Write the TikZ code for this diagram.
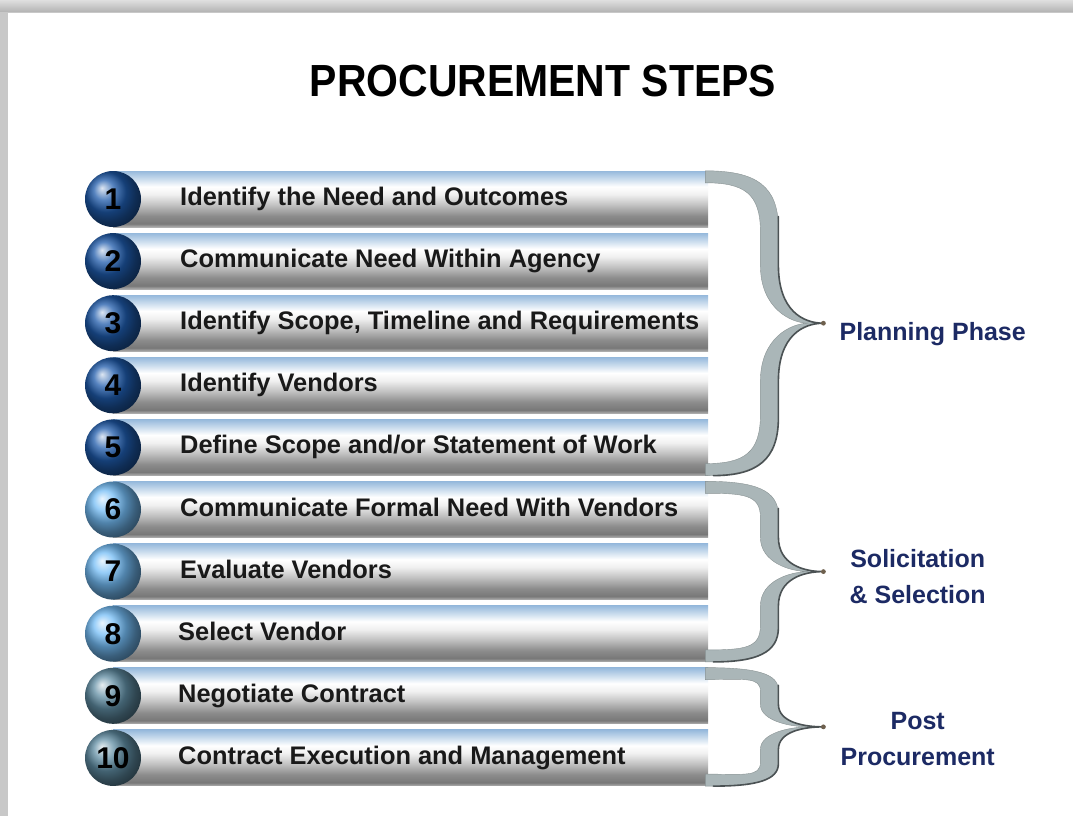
\documentclass[tikz,border=0pt]{standalone}
\usepackage{fontspec}
\setsansfont{Liberation Sans}
\newfontfamily\titlefont[FakeStretch=0.91]{Liberation Sans}
\usetikzlibrary{positioning, calc, shadings}

\definecolor{navy}{RGB}{28,42,100}
\definecolor{stepink}{RGB}{25,25,25}
\definecolor{darkball}{RGB}{30,90,170}
\definecolor{lightball}{RGB}{115,188,245}
\definecolor{steelball}{RGB}{95,140,162}
\definecolor{bracegray}{RGB}{170,182,184}
\definecolor{braceedge}{RGB}{75,82,84}
\definecolor{framegray}{RGB}{200,200,200}
\definecolor{barA}{RGB}{175,175,175}
\definecolor{barB}{RGB}{120,120,120}
\definecolor{barC}{RGB}{140,140,140}
\definecolor{barD}{RGB}{195,195,195}
\definecolor{barE}{RGB}{240,240,240}
\definecolor{barF}{RGB}{255,255,255}
\definecolor{barG}{RGB}{205,222,238}
\definecolor{barH}{RGB}{150,185,220}

% the path is fitted to the 25bp..75bp part of the shading
\pgfdeclareverticalshading{barshade}{100bp}{color(0bp)=(barA); color(25bp)=(barA);
  color(28bp)=(barB); color(35bp)=(barC); color(45bp)=(barD); color(54bp)=(barE);
  color(61bp)=(barF); color(67.5bp)=(barG); color(75bp)=(barH); color(100bp)=(barH)}

% curly bracket from the top bar to the bottom bar, #3 names the tip
\newcommand{\phasebrace}[3]{%
  \path[bracebody] let \p1=(#1.north east), \p2=(#2.south east), \n1={(\y1-\y2)/2} in
    ({\x1-3pt},\y1) .. controls ({\x1+48pt},\y1) and ({\x1+70pt},{\y1-0.1*\n1}) .. ({\x1+70pt},{\y1-0.38*\n1})
    -- ({\x1+70pt},{\y1-0.62*\n1}) .. controls ({\x1+70pt},{\y1-0.92*\n1}) and ({\x1+95pt},{\y1-\n1}) .. ({\x1+115pt},{\y1-\n1}) coordinate (#3)
    .. controls ({\x1+95pt},{\y1-\n1}) and ({\x1+70pt},{\y2+0.92*\n1}) .. ({\x1+70pt},{\y2+0.62*\n1})
    -- ({\x1+70pt},{\y2+0.38*\n1}) .. controls ({\x1+70pt},{\y2+0.1*\n1}) and ({\x1+48pt},\y2) .. ({\x1-3pt},\y2)
    -- ({\x1-3pt},{\y2+12pt}) .. controls ({\x1+36pt},{\y2+12pt}) and ({\x1+52pt},{\y2+0.15*\n1}) .. ({\x1+52pt},{\y2+0.4*\n1})
    -- ({\x1+52pt},{\y2+0.62*\n1}) .. controls ({\x1+52pt},{\y2+0.9*\n1}) and ({\x1+82pt},{\y1-\n1}) .. ({\x1+100pt},{\y1-\n1})
    .. controls ({\x1+82pt},{\y1-\n1}) and ({\x1+52pt},{\y1-0.9*\n1}) .. ({\x1+52pt},{\y1-0.62*\n1})
    -- ({\x1+52pt},{\y1-0.4*\n1}) .. controls ({\x1+52pt},{\y1-0.15*\n1}) and ({\x1+36pt},{\y1-12pt}) .. ({\x1-3pt},{\y1-12pt}) -- cycle;
  \draw[braceshade] let \p1=(#1.north east), \p2=(#2.south east), \n1={(\y1-\y2)/2} in
    ({\x1+70pt},{\y1-0.3*\n1}) -- ({\x1+70pt},{\y1-0.62*\n1})
    .. controls ({\x1+70pt},{\y1-0.92*\n1}) and ({\x1+95pt},{\y1-\n1}) .. (#3)
    .. controls ({\x1+95pt},{\y1-\n1}) and ({\x1+70pt},{\y2+0.92*\n1}) .. ({\x1+70pt},{\y2+0.62*\n1})
    -- ({\x1+70pt},{\y2+0.38*\n1}) .. controls ({\x1+70pt},{\y2+0.1*\n1}) and ({\x1+48pt},\y2) .. ({\x1+5pt},\y2);
  \fill[braceedge!70!brown] (#3) circle (2.4pt);
}

\begin{document}
\begin{tikzpicture}[x=1pt, y=-1pt, font=\sffamily\bfseries]

    \tikzstyle{bar} = [rectangle, shade, shading=barshade, minimum width=595pt, minimum height=56pt,
        inner sep=0pt, anchor=west]
    \tikzstyle{num} = [circle, shading=ball, minimum size=56pt, inner sep=0pt, text=black,
        font=\fontsize{30}{30}\selectfont\sffamily\bfseries]
    \tikzstyle{steptext} = [font=\fontsize{25.4}{30}\selectfont\sffamily\bfseries, text=stepink,
        inner sep=0pt, text height=18pt, text depth=5pt]
    \tikzstyle{phase} = [font=\fontsize{25}{36}\selectfont\sffamily\bfseries, text=navy,
        align=center, inner sep=0pt]
    \tikzstyle{bracebody} = [fill=bracegray, draw=bracegray!80!black, line width=0.4pt]
    \tikzstyle{braceshade} = [draw=braceedge, line width=1.6pt, line cap=round]

    \useasboundingbox (0,0) rectangle (1073,816);

    % Slide frame
    \fill[framegray] (0,0) rectangle (1073,816);
    \shade[top color=gray!25, bottom color=gray!60] (0,0) rectangle (1073,12);
    \fill[white] (8,13) rectangle (1073,816);

    % Title
    \node[font=\titlefont\bfseries\fontsize{45}{45}\selectfont, inner sep=0pt] (title) at (543,81) {PROCUREMENT STEPS};

    % Bars
    \node [bar] (b1) at (113,199) {};
    \node [bar, below=5.7pt of b1] (b2) {};
    \node [bar, below=5.7pt of b2] (b3) {};
    \node [bar, below=5.7pt of b3] (b4) {};
    \node [bar, below=5.7pt of b4] (b5) {};
    \node [bar, below=5.7pt of b5] (b6) {};
    \node [bar, below=5.7pt of b6] (b7) {};
    \node [bar, below=5.7pt of b7] (b8) {};
    \node [bar, below=5.7pt of b8] (b9) {};
    \node [bar, below=5.7pt of b9] (b10) {};

    % Planning steps
    \node [num, ball color=darkball] (n1) at (b1.west) {1};
    \node [num, ball color=darkball] (n2) at (b2.west) {2};
    \node [num, ball color=darkball] (n3) at (b3.west) {3};
    \node [num, ball color=darkball] (n4) at (b4.west) {4};
    \node [num, ball color=darkball] (n5) at (b5.west) {5};
    \node [steptext, right=67pt of b1.west] (t1) {Identify the Need and Outcomes};
    \node [steptext, right=67pt of b2.west] (t2) {Communicate Need Within Agency};
    \node [steptext, right=67pt of b3.west] (t3) {Identify Scope, Timeline and Requirements};
    \node [steptext, right=67pt of b4.west] (t4) {Identify Vendors};
    \node [steptext, right=67pt of b5.west] (t5) {Define Scope and/or Statement of Work};

    % Solicitation steps
    \node [num, ball color=lightball] (n6) at (b6.west) {6};
    \node [num, ball color=lightball] (n7) at (b7.west) {7};
    \node [num, ball color=lightball] (n8) at (b8.west) {8};
    \node [steptext, right=67pt of b6.west] (t6) {Communicate Formal Need With Vendors};
    \node [steptext, right=67pt of b7.west] (t7) {Evaluate Vendors};
    \node [steptext, right=65pt of b8.west] (t8) {Select Vendor};

    % Post procurement steps
    \node [num, ball color=steelball] (n9) at (b9.west) {9};
    \node [num, ball color=steelball] (n10) at (b10.west) {10};
    \node [steptext, right=65pt of b9.west] (t9) {Negotiate Contract};
    \node [steptext, right=65pt of b10.west] (t10) {Contract Execution and Management};

    % Phases
    \phasebrace{b1}{b5}{plantip}
    \phasebrace{b6}{b8}{soltip}
    \phasebrace{b9}{b10}{posttip}

    \node [phase, right=16pt of plantip, yshift=-11pt] (plan) {Planning Phase};
    \node [phase, right=26pt of soltip, yshift=-5pt] (sol) {Solicitation\\\& Selection};
    \node [phase, right=17pt of posttip, yshift=-12pt] (post) {Post\\Procurement};

\end{tikzpicture}
\end{document}
